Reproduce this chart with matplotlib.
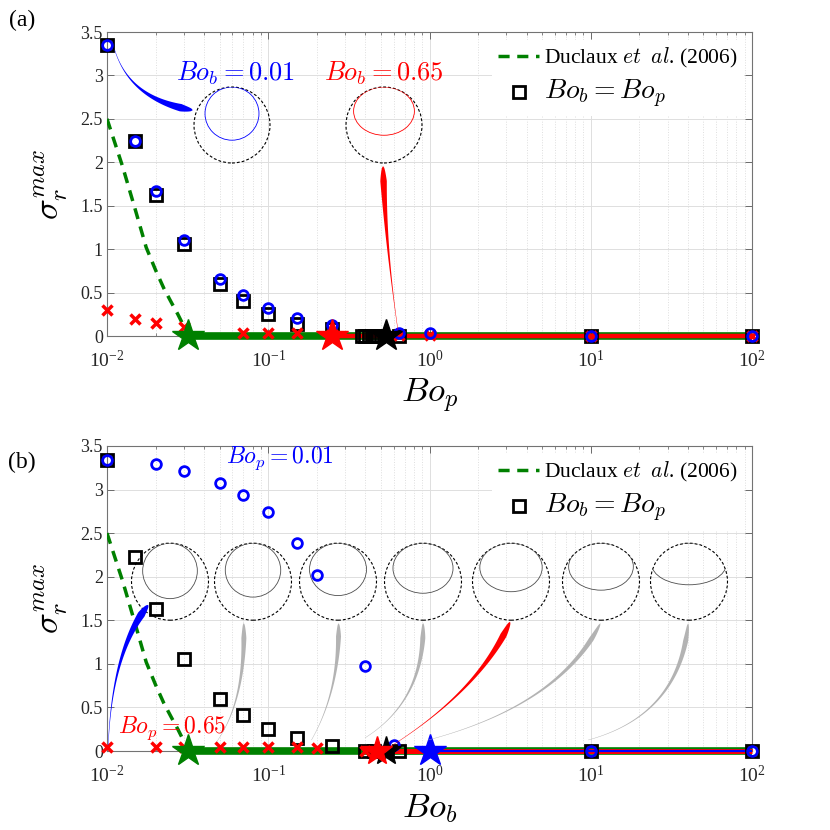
import numpy as np
import matplotlib
matplotlib.use("Agg")
import matplotlib.pyplot as plt
from matplotlib.patches import Polygon, Circle, Ellipse
from matplotlib.lines import Line2D
from matplotlib.transforms import Affine2D
from matplotlib.ticker import LogLocator, FixedLocator, FixedFormatter, NullFormatter

plt.rcParams['font.family'] = ['Liberation Serif', 'DejaVu Serif']
plt.rcParams['mathtext.fontset'] = 'cm'

# ---------------- data ----------------
# Duclaux et al. (2006) theory
duclaux_x = [0.01, 0.0125, 0.015, 0.0175, 0.02, 0.0225, 0.025, 0.0275, 0.03]
duclaux_y = [2.5, 1.95, 1.45, 1.02, 0.76, 0.55, 0.39, 0.25, 0.11]

# panel (a): sigma vs Bo_p
a_blue_x = [0.01, 0.015, 0.02, 0.03, 0.05, 0.07, 0.1, 0.15, 0.25, 0.65, 1, 10, 100]
a_blue_y = [3.35, 2.24, 1.67, 1.11, 0.66, 0.47, 0.32, 0.21, 0.13, 0.04, 0.03, 0, 0]
a_red_x = [0.01, 0.015, 0.02, 0.03, 0.07, 0.1, 0.15, 0.25, 0.65, 1, 10, 100]
a_red_y = [0.30, 0.20, 0.15, 0.10, 0.03, 0.03, 0.03, 0.02, 0.01, 0.01, 0, 0]
a_sq_x = [0.01, 0.015, 0.02, 0.03, 0.05, 0.07, 0.1, 0.15, 0.25,
          0.38, 0.40, 0.42, 0.44, 0.46, 0.48, 0.65, 10, 100]
a_sq_y = [3.35, 2.24, 1.62, 1.06, 0.60, 0.40, 0.25, 0.14, 0.08,
          0, 0, 0, 0, 0, 0, 0, 0, 0]
a_star_green = 0.032
a_star_red = 0.25
a_star_black = 0.54

# panel (b): sigma vs Bo_b
b_blue_x = [0.01, 0.02, 0.03, 0.05, 0.07, 0.1, 0.15, 0.2, 0.4, 0.6, 10, 100]
b_blue_y = [3.34, 3.29, 3.21, 3.08, 2.94, 2.74, 2.39, 2.02, 0.98, 0.07, 0, 0]
b_red_x = [0.01, 0.02, 0.03, 0.05, 0.07, 0.1, 0.15, 0.2, 0.4]
b_red_y = [0.05, 0.05, 0.05, 0.05, 0.05, 0.05, 0.05, 0.03, 0.0]
b_sq_x = [0.01, 0.015, 0.02, 0.03, 0.05, 0.07, 0.1, 0.15, 0.25, 0.4, 0.45, 0.65, 10, 100]
b_sq_y = [3.34, 2.23, 1.63, 1.06, 0.60, 0.41, 0.25, 0.146, 0.06, 0, 0, 0, 0, 0]
b_star_green = 0.032
b_star_red = 0.47
b_star_black = 0.54
b_star_blue = 1.0

x_end = 100
yticks = [0, 0.5, 1, 1.5, 2, 2.5, 3, 3.5]
ytick_labels = ['0', '0.5', '1', '1.5', '2', '2.5', '3', '3.5']

GREEN = '#008000'
RED = '#ff0000'
BLUE = '#0000ff'
GREY = '#b3b3b3'

W = 830
fig = plt.figure(figsize=(8.3, 8.3), dpi=100)

axA = fig.add_axes([107 / W, 1 - 336 / W, 645 / W, 304 / W])
axB = fig.add_axes([107 / W, 1 - 751 / W, 645 / W, 305 / W])


def style_axes(ax):
    ax.set_xscale('log')
    ax.set_xlim(0.01, 100)
    ax.set_ylim(0, 3.5)
    ax.yaxis.set_major_locator(FixedLocator(yticks))
    ax.yaxis.set_major_formatter(FixedFormatter(ytick_labels))
    ax.xaxis.set_major_locator(LogLocator(base=10, numticks=10))
    ax.xaxis.set_minor_locator(LogLocator(base=10, subs=np.arange(2, 10), numticks=20))
    ax.xaxis.set_minor_formatter(NullFormatter())
    ax.grid(which='major', color='#dedede', lw=0.7)
    ax.grid(which='minor', axis='x', color='#dedede', ls=':', lw=0.7)
    ax.set_axisbelow(True)
    ax.tick_params(which='both', direction='in', top=True, right=True,
                   color='0.35', labelcolor='0.15')
    ax.tick_params(which='major', length=5, width=0.6)
    ax.tick_params(which='minor', length=2.5, width=0.5)
    ax.tick_params(axis='x', labelsize=14, pad=10)
    ax.tick_params(axis='y', labelsize=13, pad=3)
    for s in ax.spines.values():
        s.set_color('0.45')
        s.set_linewidth(0.8)


def legend(ax):
    h1 = Line2D([], [], color=GREEN, ls=(0, (3.2, 2.2)), lw=2.5)
    h2 = Line2D([], [], color='k', marker='s', ls='none', ms=9, mfc='none', mew=2)
    leg = ax.legend([h1, h2], [r'Duclaux $et$  $al$. (2006)', r'$Bo_b = Bo_p$'],
                    loc='upper right', bbox_to_anchor=(1.0, 1.0), frameon=True,
                    fancybox=False, edgecolor='none', facecolor='white', framealpha=1,
                    fontsize=15.5, handlelength=1.9, handletextpad=0.25,
                    borderaxespad=0.35, labelspacing=0.35, borderpad=0.3)
    leg.get_texts()[1].set_fontsize(20)
    leg.set_zorder(20)


def taper_arrow(ax, p0, p1, p2, color, wmax, n=80):
    P = ax.transAxes.transform(np.array([p0, p1, p2], dtype=float))
    t = np.linspace(0, 1, n)
    B = ((1 - t) ** 2)[:, None] * P[0] + (2 * (1 - t) * t)[:, None] * P[1] + (t ** 2)[:, None] * P[2]
    dB = (2 * (1 - t))[:, None] * (P[1] - P[0]) + (2 * t)[:, None] * (P[2] - P[1])
    nrm = np.stack([-dB[:, 1], dB[:, 0]], axis=1)
    nrm /= np.linalg.norm(nrm, axis=1)[:, None]
    w = np.where(t < 0.9, 0.4 + (wmax - 0.4) * (t / 0.9) ** 2,
                 wmax * np.sqrt(np.clip((1 - t) / 0.1, 0, 1)))
    left = B + nrm * (w[:, None] / 2)
    right = B - nrm * (w[:, None] / 2)
    poly = np.vstack([left, right[::-1]])
    poly = fig.transFigure.inverted().transform(poly)
    fig.patches.append(Polygon(poly, closed=True, transform=fig.transFigure,
                               facecolor=color, edgecolor='none', zorder=15))


def bubble(ax, cx, cy, R, a, b, color):
    # drawn inside the main axes, in figure-fraction units so the circle stays round
    tr = Affine2D().scale(R / W).translate(cx / W, 1 - cy / W) + fig.transFigure
    circ = Circle((0, 0), 1, fill=False, ls=(0, (2.6, 1.8)), lw=0.8, ec='k',
                  transform=tr, zorder=2.5, clip_on=False)
    ax.add_patch(circ)
    clipc = Circle((0, 0), 1, transform=tr)
    ell = Ellipse((0, 1 - b), 2 * a, 2 * b, fill=False, lw=0.6, ec=color,
                  transform=tr, zorder=2.5)
    ax.add_patch(ell)
    ell.set_clip_path(clipc)


for ax in (axA, axB):
    style_axes(ax)
    ax.plot(duclaux_x, duclaux_y, color=GREEN, ls=(0, (3.2, 2.2)), lw=2.5, zorder=3)

# ---------- panel (a) ----------
axA.plot([a_star_green, x_end], [0, 0], color=GREEN, lw=5.5, solid_capstyle='butt', clip_on=False, zorder=4)
axA.plot([a_star_red, x_end], [0, 0], color=RED, lw=3.2, solid_capstyle='butt', clip_on=False, zorder=4.1)
axA.plot(a_sq_x, a_sq_y, 's', ms=9, mfc='none', mec='k', mew=2, clip_on=False, zorder=6)
axA.plot(a_blue_x, a_blue_y, 'o', ms=7, mfc='none', mec=BLUE, mew=2, clip_on=False, zorder=7)
axA.plot(a_red_x, a_red_y, 'x', ms=7, mec=RED, mew=2.5, clip_on=False, zorder=6.5)
axA.plot([a_star_green], [0], '*', ms=24, color=GREEN, clip_on=False, zorder=8)
axA.plot([a_star_red], [0], '*', ms=24, color=RED, clip_on=False, zorder=8)
axA.plot([a_star_black], [0], '*', ms=24, color='k', clip_on=False, zorder=8)
legend(axA)
axA.text(0.2, 0.865, r'$Bo_b = 0.01$', color=BLUE, fontsize=19, ha='center', va='center',
         transform=axA.transAxes)
axA.text(0.4295, 0.865, r'$Bo_b = 0.65$', color=RED, fontsize=19, ha='center', va='center',
         transform=axA.transAxes)
axA.set_xlabel(r'$Bo_p$', fontsize=25)
axA.xaxis.set_label_coords(0.5, -0.135)
axA.set_ylabel(r'$\sigma_r^{max}$', fontsize=25)
axA.yaxis.set_label_coords(-0.058, 0.5)

bubble(axA, 232, 125, 38, 0.71, 0.70, BLUE)
bubble(axA, 384, 125, 38, 0.80, 0.635, RED)
taper_arrow(axA, (0.012, 0.941), (0.036, 0.776), (0.133, 0.743), BLUE, 7.5)
taper_arrow(axA, (0.451, 0.02), (0.431, 0.316), (0.428, 0.559), RED, 6.5)

# ---------- panel (b) ----------
axB.plot([b_star_green, x_end], [0, 0], color=GREEN, lw=5.5, solid_capstyle='butt', clip_on=False, zorder=4)
axB.plot([b_star_red, x_end], [0, 0], color=RED, lw=3.6, solid_capstyle='butt', clip_on=False, zorder=4.1)
axB.plot([b_star_blue, x_end], [0, 0], color=BLUE, lw=1.6, solid_capstyle='butt', clip_on=False, zorder=4.2)
axB.plot(b_sq_x, b_sq_y, 's', ms=9, mfc='none', mec='k', mew=2, clip_on=False, zorder=6)
axB.plot(b_blue_x, b_blue_y, 'o', ms=7, mfc='none', mec=BLUE, mew=2, clip_on=False, zorder=7)
axB.plot(b_red_x, b_red_y, 'x', ms=7, mec=RED, mew=2.5, clip_on=False, zorder=6.5)
axB.plot([b_star_green], [0], '*', ms=24, color=GREEN, clip_on=False, zorder=8)
axB.plot([b_star_black], [0], '*', ms=22, color='k', clip_on=False, zorder=8)
axB.plot([b_star_red], [0], '*', ms=22, color=RED, clip_on=False, zorder=8.1)
axB.plot([b_star_blue], [0], '*', ms=24, color=BLUE, clip_on=False, zorder=8)
legend(axB)
axB.text(0.268, 0.961, r'$Bo_p = 0.01$', color=BLUE, fontsize=17, ha='center', va='center',
         transform=axB.transAxes)
axB.text(0.017, 0.075, r'$Bo_p = 0.65$', color=RED, fontsize=17, ha='left', va='center',
         transform=axB.transAxes)
axB.set_xlabel(r'$Bo_b$', fontsize=25)
axB.xaxis.set_label_coords(0.5, -0.135)
axB.set_ylabel(r'$\sigma_r^{max}$', fontsize=25)
axB.yaxis.set_label_coords(-0.058, 0.5)

shapes = [(0.71, 0.72), (0.72, 0.70), (0.74, 0.68), (0.78, 0.65),
          (0.81, 0.63), (0.84, 0.61), (0.97, 0.54)]
centers = [170, 253, 338, 423, 511, 601, 689]
for cx, (a, b) in zip(centers, shapes):
    bubble(axB, cx, 581.7, 38.5, a, b, '0.3')

taper_arrow(axB, (0.002, 0.02), (0.008, 0.331), (0.064, 0.479), BLUE, 7.5)
taper_arrow(axB, (0.170, 0.03), (0.2155, 0.167), (0.212, 0.42), GREY, 5)
taper_arrow(axB, (0.317, 0.036), (0.361, 0.2), (0.359, 0.419), GREY, 5)
taper_arrow(axB, (0.40, 0.043), (0.493, 0.167), (0.49, 0.42), GREY, 5)
taper_arrow(axB, (0.439, 0.014), (0.578, 0.2), (0.625, 0.424), RED, 6.5)
taper_arrow(axB, (0.498, 0.036), (0.702, 0.151), (0.765, 0.419), GREY, 5)
taper_arrow(axB, (0.746, 0.036), (0.888, 0.118), (0.901, 0.419), GREY, 5)

fig.text(22 / W, 1 - 20 / W, '(a)', fontsize=17, ha='center', va='center')
fig.text(22 / W, 1 - 462 / W, '(b)', fontsize=17, ha='center', va='center')

fig.savefig('out.png', dpi=100)
